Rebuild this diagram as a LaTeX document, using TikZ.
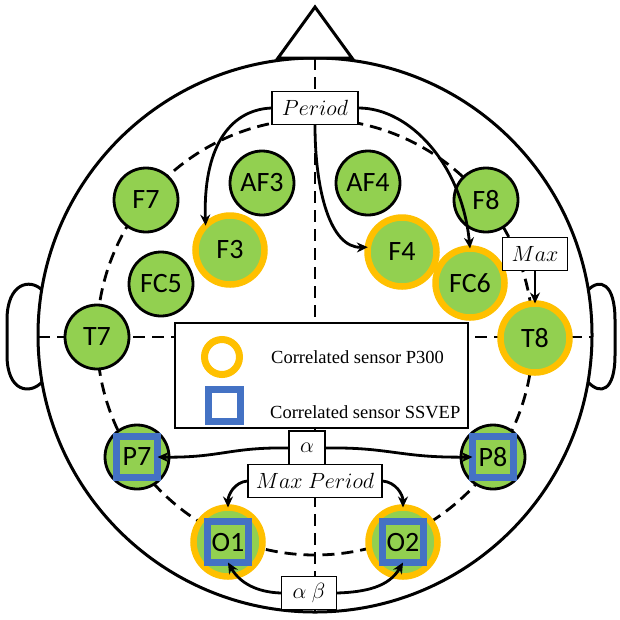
\RequirePackage{fix-cm}
\documentclass[tikz,border=0pt]{standalone}
\usepackage{fontspec}
\setmainfont{Liberation Serif}
\newfontfamily\elecfont{Carlito}
\usetikzlibrary{arrows.meta}
\definecolor{capgreen}{HTML}{92D050}
\definecolor{ringgold}{HTML}{FFC000}
\definecolor{sqblue}{HTML}{4472C4}
\pgfdeclarelayer{background}
\pgfsetlayers{background,main}
\begin{document}
\begin{tikzpicture}[x=1pt,y=-1pt,
  electrode/.style={circle, draw=black, line width=2.8pt, fill=capgreen,
    minimum size=64pt, inner sep=0pt, outer sep=0pt,
    font=\elecfont\fontsize{28}{28}\selectfont},
  p300/.style={circle, draw=ringgold, line width=6.5pt, fill=capgreen,
    minimum size=69pt, inner sep=0pt, outer sep=0pt,
    font=\elecfont\fontsize{28}{28}\selectfont},
  ssvep/.style={rectangle, draw=sqblue, line width=7pt, fill=capgreen,
    minimum size=41pt, inner sep=0pt, outer sep=0pt,
    font=\elecfont\fontsize{28}{28}\selectfont},
  tag/.style={rectangle, draw=black, line width=1.3pt, fill=white,
    inner sep=0pt, minimum height=33pt, font=\fontsize{22}{22}\selectfont},
  conn/.style={line width=2.8pt, -{Stealth[length=11pt,width=10pt]}},
  guide/.style={line width=2.8pt, dash pattern=on 12pt off 7pt},
  outline/.style={line width=3pt},
  keytext/.style={anchor=west, inner sep=0pt, font=\fontsize{18.5}{20}\selectfont}
]
\useasboundingbox (0,0) rectangle (620,619);

% electrodes
\node[electrode] (F7)  at (146,200) {F7};
\node[electrode] (AF3) at (262,183) {AF3};
\node[electrode] (AF4) at (368,183) {AF4};
\node[electrode] (F8)  at (486,200) {F8};
\node[electrode] (FC5) at (161,284) {FC5};
\node[electrode] (T7)  at (97,337)  {T7};
\node[p300] (F3)  at (230,250) {F3};
\node[p300] (F4)  at (402,252) {F4};
\node[p300] (FC6) at (470,283) {FC6};
\node[p300] (T8)  at (535,338) {T8};
\node[electrode] (P7c) at (137,457) {};
\node[ssvep] (P7) at (P7c) {P7};
\node[electrode] (P8c) at (493,457) {};
\node[ssvep] (P8) at (P8c) {P8};
\node[p300] (O1c) at (228,542) {};
\node[ssvep] (O1) at (O1c) {O1};
\node[p300] (O2c) at (403,542) {};
\node[ssvep] (O2) at (O2c) {O2};

% feature labels
\node[tag, minimum width=86pt] (period) at (315,108) {$Period$};
\node[tag, minimum width=65pt] (max) at (535,254) {$Max$};
\node[tag, minimum width=36pt, minimum height=34pt] (alpha) at (307,448) {$\alpha$};
\node[tag, minimum width=134pt] (maxper) at (315,481) {$Max\ Period$};
\node[tag, minimum width=55pt, minimum height=33pt] (ab) at (309,593) {$\alpha\ \beta$};

% legend
\node[draw=black, line width=1.3pt, fill=white, minimum width=293pt,
  minimum height=105pt, inner sep=0pt] (legend) at (321.5,375.5) {};
\node[circle, draw=ringgold, line width=7pt, minimum size=35pt, inner sep=0pt]
  (keyring) at (222,357) {};
\node[draw=sqblue, line width=7pt, minimum size=32pt, inner sep=0pt]
  (keysq) at (224,405) {};
\node[keytext] (keyringtxt) at (271,357) {Correlated sensor P300};
\node[keytext] (keysqtxt) at (270,412) {Correlated sensor SSVEP};

% arrows
\draw[conn] (period.west) .. controls (228,110) and (203,150) .. (F3.135);
\draw[conn] (period.south) .. controls (315,190) and (330,248) .. (F4.172);
\draw[conn] (period.east) .. controls (410,108) and (462,165) .. (FC6.north);
\draw[conn] (max.south) -- (T8.north);
\draw[conn] (alpha.west) .. controls (230,447) and (220,458) .. (P7.east);
\draw[conn] (alpha.east) .. controls (390,447) and (400,458) .. (P8.west);
\draw[conn] (maxper.west) to[out=185,in=90] (O1c.north);
\draw[conn] (maxper.east) to[out=-5,in=90] (O2c.north);
\draw[conn] (ab.west) to[out=178,in=-60] (O1.south);
\draw[conn] (ab.east) to[out=2,in=-120] (O2.south);

% head outline and reference lines
\begin{pgfonlayer}{background}
  \coordinate (hc) at (315,335);
  \draw[outline] (42,290) .. controls (30,278) and (7,283) .. (7,320)
    -- (7,355) .. controls (7,392) and (30,395) .. (42,382);
  \draw[outline] (588,290) .. controls (600,278) and (615,283) .. (615,320)
    -- (615,355) .. controls (615,392) and (600,395) .. (588,382);
  \draw[outline, fill=white] (hc) circle[radius=277];
  \draw[outline, fill=white] (278,58) -- (315,7) -- (352,58) -- cycle;
  \draw[guide] (315,58) -- (315,612);
  \draw[guide] (38,337) -- (592,337);
  \draw[guide] (315,337) circle[radius=218];
\end{pgfonlayer}
\end{tikzpicture}
\end{document}
